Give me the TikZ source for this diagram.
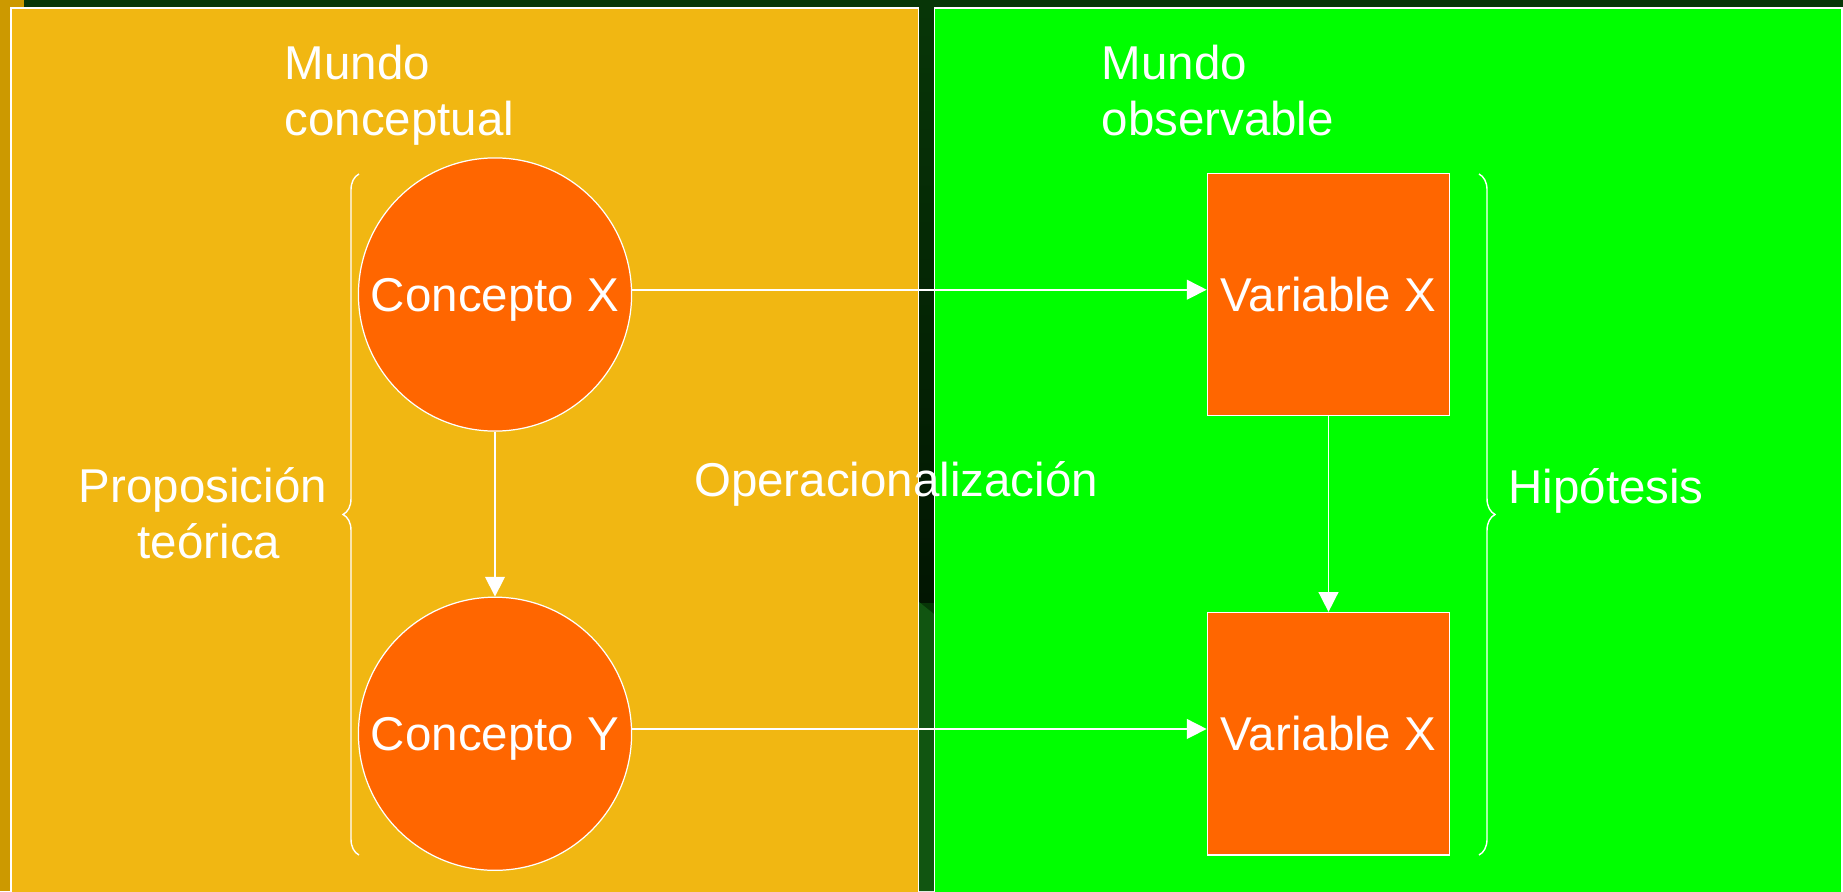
\documentclass[tikz,border=0pt]{standalone}
\usepackage{fontspec}
\setmainfont{Liberation Sans}
\usetikzlibrary{arrows.meta,positioning,decorations.pathreplacing}

\definecolor{bgdark}{HTML}{073607}
\definecolor{gapdark}{HTML}{021602}
\definecolor{gaplow}{HTML}{115511}
\definecolor{stripgold}{HTML}{CC9900}
\definecolor{panelgold}{HTML}{F1B712}
\definecolor{panelgreen}{HTML}{00FF00}
\definecolor{nodeorange}{HTML}{FF6600}

\begin{document}
\begin{tikzpicture}[x=0.01cm,y=-0.01cm,>={Triangle[length=5.6pt,width=5.6pt]},node distance=4.39cm,on grid,
  every node/.style={text=white,font=\fontsize{13.5}{16}\selectfont},
  concepto/.style={circle,draw=white,line width=0.35pt,fill=nodeorange,minimum size=2.73cm,inner sep=0pt,text depth=0pt},
  varcaja/.style={rectangle,draw=white,line width=0.45pt,fill=nodeorange,minimum size=2.42cm,inner sep=0pt},
  rotulo/.style={inner sep=0pt}]
\useasboundingbox (0,0) rectangle (1843,891);
% fondo y paneles
\fill[bgdark] (0,0) rectangle (1843,891);
\fill[stripgold] (0,0) rectangle (24,8);
\fill[stripgold] (0,0) rectangle (10,891);
\shade[top color=bgdark,bottom color=gapdark] (919,8) rectangle (934,602);
\fill[gaplow] (919,602) -- (934,614) -- (934,891) -- (919,891) -- cycle;
\draw[white,line width=0.4pt,fill=panelgold] (11,8) rectangle (918.5,900);
\draw[white,line width=0.4pt,fill=panelgreen] (934.5,8) rectangle (1842,900);

\node[concepto] (cx) at (495,294.5) {Concepto X};
\node[concepto] (cy) [below=of cx] {Concepto Y};
\node[varcaja] (vx) [right=8.33cm of cx] {Variable X};
\node[varcaja] (vy) [below=of vx] {Variable X};

\node[rotulo,anchor=north west,align=left] (mc) at (284,44.5) {Mundo\\conceptual};
\node[rotulo,anchor=north west,align=left] (mo) at (1101,44.5) {Mundo\\observable};
\node[rotulo,align=center,anchor=north] (pt) at (203,467) {Proposición\\\hspace*{0.25em}teórica};
\node[rotulo,anchor=base] (op) at (896,496) {Operacionalización};
\node[rotulo,anchor=base] (hi) at (1606,503) {Hipótesis};

% llaves
\coordinate (la) at (359,855);
\coordinate (lb) at (359,174);
\coordinate (ra) at (1479,174);
\coordinate (rb) at (1479,855);
\tikzset{llave/.style={white,line width=0.4pt,decorate,decoration={brace,amplitude=0.16cm}}}
\draw[llave] (la) -- (lb);
\draw[llave] (ra) -- (rb);

\tikzset{flecha/.style={->,white,line width=0.45pt}}
\path (cx.2) edge [flecha] (cx.2 -| vx.west)
      (cy.2) edge [flecha] (cy.2 -| vy.west)
      (cx) edge [flecha] (cy)
      (vx) edge [flecha] (vy);
\end{tikzpicture}
\end{document}
